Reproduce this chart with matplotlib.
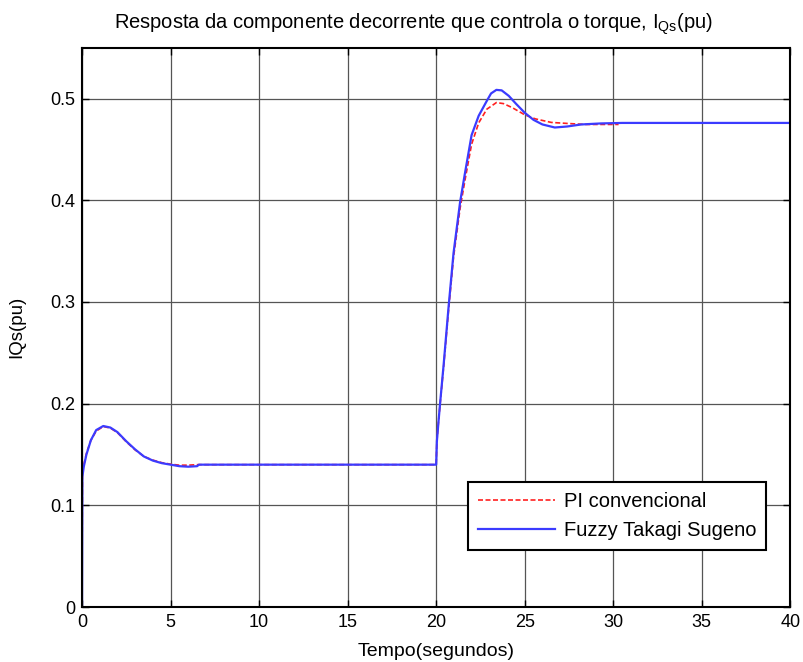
import matplotlib
matplotlib.use("Agg")
import matplotlib.pyplot as plt
from matplotlib.ticker import FuncFormatter

plt.rcParams['font.family'] = ['Liberation Sans', 'DejaVu Sans']
plt.rcParams['mathtext.default'] = 'regular'

# Fuzzy Takagi Sugeno (leitura aproximada da figura)
t_fuzzy = [0, 0.02, 0.1, 0.25, 0.5, 0.8, 1.2, 1.6, 2.0, 2.5, 3.0, 3.5, 4.0, 4.5,
           5.0, 5.5, 6.0, 6.5, 6.6, 10, 15, 20.0, 20.04, 20.13, 20.23, 20.42,
           20.7, 20.98, 21.35, 21.63, 22.0, 22.4, 22.86, 23.1, 23.4, 23.7,
           24.1, 24.5, 25.0, 25.5, 26.0, 26.7, 27.4, 28.2, 29.3, 30.5, 35, 40]
iqs_fuzzy = [0, 0.128, 0.138, 0.150, 0.164, 0.174, 0.178, 0.1765, 0.172, 0.163,
             0.155, 0.148, 0.144, 0.1415, 0.140, 0.1385, 0.138, 0.1385, 0.140,
             0.140, 0.140, 0.140, 0.163, 0.182, 0.202, 0.238, 0.295, 0.348,
             0.398, 0.427, 0.464, 0.483, 0.4977, 0.505, 0.5085, 0.508, 0.5026,
             0.495, 0.486, 0.479, 0.4745, 0.4715, 0.4725, 0.4745, 0.4755,
             0.476, 0.476, 0.476]

# PI convencional
t_pi = [0, 0.02, 0.1, 0.25, 0.5, 0.8, 1.2, 1.6, 2.0, 2.5, 3.0, 3.5, 4.0, 4.5,
        5.0, 5.5, 6.0, 6.5, 7.0, 10, 15, 20.0, 20.04, 20.13, 20.23, 20.42,
        20.7, 20.98, 21.35, 21.63, 22.0, 22.4, 22.86, 23.4, 23.8, 24.3,
        25.0, 25.6, 26.5, 27.4, 28.4, 30.3]
iqs_pi = [0, 0.133, 0.140, 0.151, 0.164, 0.173, 0.1775, 0.176, 0.1715, 0.1625,
          0.1545, 0.148, 0.1445, 0.142, 0.1405, 0.1395, 0.1395, 0.140, 0.140,
          0.140, 0.140, 0.140, 0.163, 0.182, 0.201, 0.236, 0.292, 0.344,
          0.392, 0.420, 0.455, 0.476, 0.4895, 0.496, 0.495, 0.491, 0.484,
          0.480, 0.4765, 0.4755, 0.4745, 0.4745]

fig = plt.figure(figsize=(8.04, 6.62), dpi=100)
ax = fig.add_axes([0.102, 0.083, 0.881, 0.845])

ax.plot(t_pi, iqs_pi, '--', color='#ff2020', lw=1.2, dashes=(3, 1.5),
        label='PI convencional')
ax.plot(t_fuzzy, iqs_fuzzy, '-', color='#3b3bff', lw=1.6,
        label='Fuzzy Takagi Sugeno')

ax.set_xlim(0, 40)
ax.set_ylim(0, 0.55)
ax.set_xticks(range(0, 41, 5))
ax.set_yticks([0, 0.1, 0.2, 0.3, 0.4, 0.5])
ax.yaxis.set_major_formatter(FuncFormatter(lambda v, p: '0' if v == 0 else '%.1f' % v))
ax.tick_params(direction='in', top=True, right=True, labelsize=13, length=5,
               width=1, pad=5)
ax.grid(True, color='#555555', lw=0.9, ls='-')
for s in ax.spines.values():
    s.set_linewidth(1.5)

ax.set_title('Resposta da componente decorrente que controla o torque, I$_{Qs}$(pu)',
             fontsize=14.5, pad=14, x=0.468)
ax.set_xlabel('Tempo(segundos)', fontsize=14, labelpad=9)
ax.set_ylabel('IQs(pu)', fontsize=13.5, labelpad=18)

leg = ax.legend(loc='lower right', bbox_to_anchor=(0.966, 0.102), borderaxespad=0,
                fancybox=False, framealpha=1, edgecolor='black', fontsize=14.5,
                handlelength=3.8, handletextpad=0.45, borderpad=0.5,
                labelspacing=0.5)
leg.get_frame().set_linewidth(1.5)

fig.savefig('out.png', dpi=100)
